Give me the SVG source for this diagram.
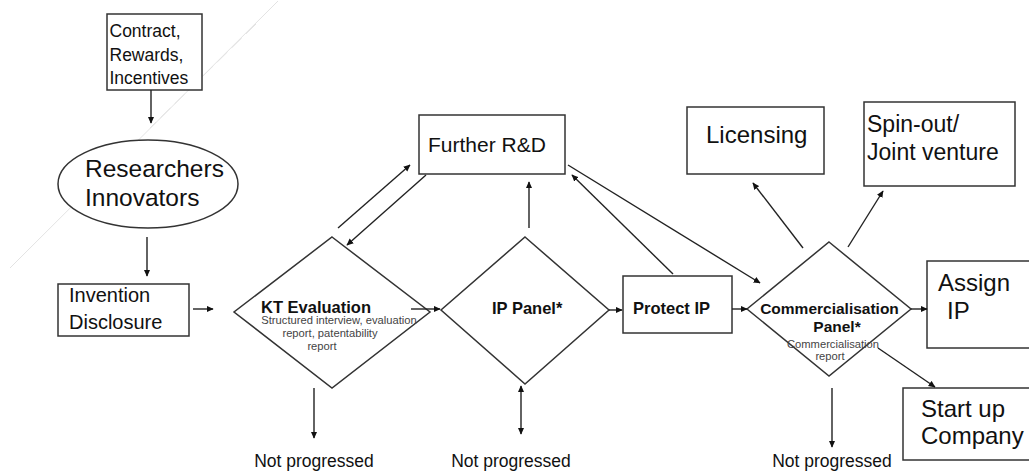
<svg xmlns="http://www.w3.org/2000/svg" width="1029" height="471" viewBox="0 0 1029 471">
<style>
.box{fill:#fff;stroke:#333;stroke-width:1.5}
.dia{fill:#fff;stroke:#333;stroke-width:1.5}
.c{stroke:#222;stroke-width:1.4;fill:none}
.t{font-family:"Liberation Sans",Arial,sans-serif;fill:#111}
.b{font-family:"Liberation Sans",Arial,sans-serif;font-weight:bold;fill:#111}
.s{font-family:"Liberation Sans",Arial,sans-serif;fill:#444;font-size:11.2px}
.deco{stroke:#e3e3e3;stroke-width:1}
</style>
<defs>
<marker id="ah" viewBox="0 0 10 10" refX="9" refY="5" markerWidth="7" markerHeight="7" orient="auto-start-reverse" markerUnits="userSpaceOnUse">
<path d="M0,0.5 L10,5 L0,9.5 z" fill="#111"/>
</marker>
</defs>
<rect width="1029" height="471" fill="#fff"/>
<g id="decoration">
<line class="deco" x1="278" y1="1" x2="10" y2="268"/>
<line class="deco" x1="256" y1="24" x2="150" y2="128" stroke-width="2" stroke-dasharray="14 6"/>
</g>
<g id="contract">
<rect class="box" x="107" y="14" width="95" height="76"/>
<text class="t" font-size="17.5" x="109.5"><tspan x="109.5" y="37">Contract,</tspan><tspan x="109.5" y="61">Rewards,</tspan><tspan x="109.5" y="84">Incentives</tspan></text>
</g>
<g id="researchers">
<ellipse class="box" cx="148" cy="184" rx="90" ry="44"/>
<text class="t" font-size="24.5" x="85"><tspan x="85" y="177">Researchers</tspan><tspan x="85" y="206">Innovators</tspan></text>
</g>
<g id="invention">
<rect class="box" x="58" y="284" width="131" height="52"/>
<text class="t" font-size="20" x="69"><tspan x="69" y="302">Invention</tspan><tspan x="69" y="329">Disclosure</tspan></text>
</g>
<g id="kt">
<polygon class="dia" points="332,237 430,312 332,388 234,312"/>
<text class="b" font-size="16.5" x="261" y="313">KT Evaluation</text>
<text class="s" text-anchor="middle" x="339" y="324">Structured interview, evaluation</text>
<text class="s" text-anchor="middle" x="330" y="337">report, patentability</text>
<text class="s" text-anchor="middle" x="322" y="350">report</text>
</g>
<g id="ip">
<polygon class="dia" points="525,237 609,310 525,384 441,310"/>
<text class="b" font-size="16.5" x="492" y="314">IP Panel*</text>
</g>
<g id="further">
<rect class="box" x="419" y="115" width="146" height="59"/>
<text class="t" font-size="21" x="428" y="152">Further R&amp;D</text>
</g>
<g id="protect">
<rect class="box" x="623" y="276" width="109" height="57"/>
<text class="b" font-size="16.5" x="633" y="314">Protect IP</text>
</g>
<g id="commercial">
<polygon class="dia" points="829,242 911,309 829,376 747,309"/>
<text class="b" font-size="15.5" text-anchor="middle" x="829.5" y="314">Commercialisation</text>
<text class="b" font-size="15.5" text-anchor="middle" x="837" y="332">Panel*</text>
<text class="s" text-anchor="middle" x="833" y="348">Commercialisation</text>
<text class="s" text-anchor="middle" x="830" y="360">report</text>
</g>
<g id="licensing">
<rect class="box" x="687" y="107" width="137" height="67"/>
<text class="t" font-size="24" x="706" y="143">Licensing</text>
</g>
<g id="spinout">
<rect class="box" x="864" y="102" width="151" height="84"/>
<text class="t" font-size="23" x="867"><tspan x="867" y="132">Spin-out/</tspan><tspan x="867" y="160">Joint venture</tspan></text>
</g>
<g id="assign">
<rect class="box" x="927" y="261" width="110" height="87"/>
<text class="t" font-size="24" x="938"><tspan x="938" y="291">Assign</tspan><tspan x="947" y="319">IP</tspan></text>
</g>
<g id="startup">
<rect class="box" x="903" y="388" width="135" height="72"/>
<text class="t" font-size="24" x="921"><tspan x="921" y="417">Start up</tspan><tspan x="921" y="444">Company</tspan></text>
</g>
<g id="labels">
<text class="t" font-size="17.5" text-anchor="middle" x="314" y="467">Not progressed</text>
<text class="t" font-size="17.5" text-anchor="middle" x="511" y="467">Not progressed</text>
<text class="t" font-size="17.5" text-anchor="middle" x="832" y="467">Not progressed</text>
</g>
<g id="connectors">
<line class="c" x1="151" y1="90" x2="151" y2="123" marker-end="url(#ah)"/>
<line class="c" x1="147" y1="237" x2="147" y2="276" marker-end="url(#ah)"/>
<line class="c" x1="193" y1="309" x2="213" y2="309" marker-end="url(#ah)"/>
<line class="c" x1="411" y1="309" x2="440" y2="309" marker-end="url(#ah)"/>
<line class="c" x1="338" y1="228" x2="410" y2="165" marker-end="url(#ah)"/>
<line class="c" x1="426" y1="175" x2="347" y2="245" marker-end="url(#ah)"/>
<line class="c" x1="314" y1="388" x2="314" y2="438" marker-end="url(#ah)"/>
<line class="c" x1="521" y1="386" x2="521" y2="434" marker-start="url(#ah)" marker-end="url(#ah)"/>
<line class="c" x1="529" y1="228" x2="529" y2="182" marker-end="url(#ah)"/>
<line class="c" x1="609" y1="310" x2="622" y2="310" marker-end="url(#ah)"/>
<line class="c" x1="673" y1="274" x2="572" y2="175" marker-end="url(#ah)"/>
<line class="c" x1="568" y1="165" x2="760" y2="283" marker-end="url(#ah)"/>
<line class="c" x1="732" y1="309" x2="747" y2="309" marker-end="url(#ah)"/>
<line class="c" x1="911" y1="309" x2="927" y2="309" marker-end="url(#ah)"/>
<line class="c" x1="878" y1="348" x2="935" y2="387" marker-end="url(#ah)"/>
<line class="c" x1="832" y1="388" x2="832" y2="447" marker-end="url(#ah)"/>
<line class="c" x1="803" y1="248" x2="753" y2="183" marker-end="url(#ah)"/>
<line class="c" x1="848" y1="247" x2="883" y2="191" marker-end="url(#ah)"/>
</g>
</svg>
